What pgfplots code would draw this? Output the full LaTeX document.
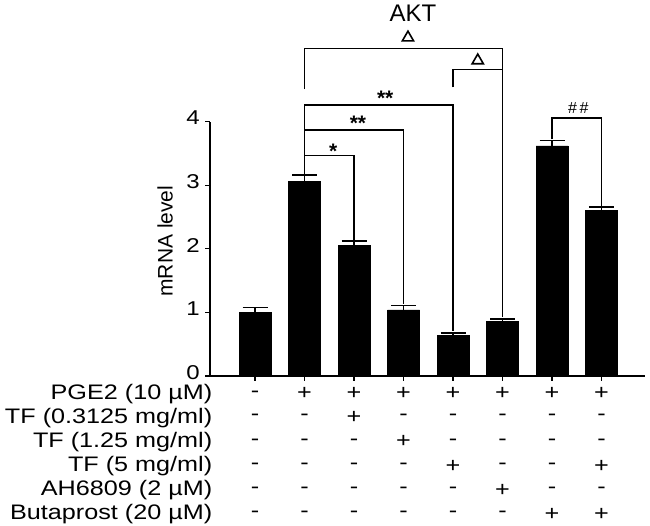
\documentclass[border=0pt]{standalone}
\usepackage{fontspec}
\setmainfont{Liberation Sans}[FakeStretch=1.2]
\newfontfamily\plainfont{Liberation Sans}
\usepackage{pgfplots}
\usetikzlibrary{shapes.geometric}
\pgfplotsset{compat=1.18}
\newcommand{\rowfont}{\fontsize{21bp}{24bp}\selectfont}
\tikzset{tri/.style={draw, regular polygon, regular polygon sides=3, minimum size=13bp, inner sep=0pt, line width=1.6bp},
  lab/.style={font=\rowfont, anchor=east, inner sep=0pt}}
\begin{document}
\begin{tikzpicture}
\begin{axis}[
  scale only axis, width=435bp, height=254.4bp,
  xmin=-0.909, xmax=7.879, ymin=0, ymax=4,
  axis lines*=left,
  axis line style={line width=1.3bp, black},
  ytick={0,1,2,3,4}, xtick={0,1,2,3,4,5,6,7}, xticklabels={},
  tick align=outside, major tick length=5bp,
  tick style={line width=1.3bp, black},
  /pgf/number format/assume math mode=true,
  yticklabel style={font=\fontsize{20bp}{24bp}\selectfont, inner sep=0pt, xshift=-5bp, yshift=3.5bp},
  ylabel={mRNA level},
  ylabel style={at={(axis description cs:-0.103,0.53)}, anchor=center, font=\plainfont\fontsize{21bp}{24bp}\selectfont},
  clip=false,
]
\addplot[ybar, bar width=32bp, fill=black, draw=black,
  error bars/.cd, y dir=plus, y explicit,
  error bar style={line width=1.6bp, black},
  error mark options={mark size=12.5bp, line width=1.6bp, rotate=90, black}]
  coordinates {
  (0,1.00) +- (0,0.08)
  (1,3.06) +- (0,0.10)
  (2,2.05) +- (0,0.07)
  (3,1.04) +- (0,0.07)
  (4,0.64) +- (0,0.035)
  (5,0.86) +- (0,0.035)
  (6,3.62) +- (0,0.08)
  (7,2.60) +- (0,0.06)
  };
% significance brackets
\draw[line width=1.5bp] (axis cs:1,4.51) -- (axis cs:1,5.15) -- (axis cs:5,5.15) -- (axis cs:5,0.92);
\draw[line width=1.5bp] (axis cs:4,4.54) -- (axis cs:4,4.82) -- (axis cs:5,4.82);
\draw[line width=1.5bp] (axis cs:1,3.17) -- (axis cs:1,4.26) -- (axis cs:4,4.26) -- (axis cs:4,0.70);
\draw[line width=1.5bp] (axis cs:1,3.87) -- (axis cs:3,3.87) -- (axis cs:3,1.13);
\draw[line width=1.5bp] (axis cs:1,3.47) -- (axis cs:2,3.47) -- (axis cs:2,2.14);
\draw[line width=1.5bp] (axis cs:6,3.72) -- (axis cs:6,4.06) -- (axis cs:7,4.06) -- (axis cs:7,2.68);
\node[tri] at (axis cs:3.09,5.32) {};
\node[tri] at (axis cs:4.50,4.96) {};
\node[font=\plainfont\bfseries\fontsize{21bp}{24bp}\selectfont, yshift=-4.5bp] at (axis cs:2.63,4.43) {**};
\node[font=\plainfont\bfseries\fontsize{21bp}{24bp}\selectfont, yshift=-4.5bp] at (axis cs:2.08,4.04) {**};
\node[font=\plainfont\bfseries\fontsize{21bp}{24bp}\selectfont, yshift=-4.5bp] at (axis cs:1.58,3.60) {*};
\node[font=\plainfont\fontsize{16bp}{18bp}\selectfont] at (axis cs:6.53,4.22) {\#\,\#};
\node[font=\plainfont\fontsize{24bp}{26bp}\selectfont] at (axis cs:3.19,5.71) {AKT};
% treatment table
\node[lab] at (axis cs:-0.86,-0.280) {PGE2 (10 µM)};
\node[lab] at (axis cs:-0.86,-0.655) {TF (0.3125 mg/ml)};
\node[lab] at (axis cs:-0.86,-1.035) {TF (1.25 mg/ml)};
\node[lab] at (axis cs:-0.86,-1.415) {TF (5 mg/ml)};
\node[lab] at (axis cs:-0.86,-1.797) {AH6809 (2 µM)};
\node[lab] at (axis cs:-0.86,-2.178) {Butaprost (20 µM)};
% row 1: PGE2
\node[font=\rowfont] at (axis cs:0,-0.280) {-};
\node[font=\rowfont] at (axis cs:1,-0.280) {+};
\node[font=\rowfont] at (axis cs:2,-0.280) {+};
\node[font=\rowfont] at (axis cs:3,-0.280) {+};
\node[font=\rowfont] at (axis cs:4,-0.280) {+};
\node[font=\rowfont] at (axis cs:5,-0.280) {+};
\node[font=\rowfont] at (axis cs:6,-0.280) {+};
\node[font=\rowfont] at (axis cs:7,-0.280) {+};
% row 2
\node[font=\rowfont] at (axis cs:0,-0.655) {-};
\node[font=\rowfont] at (axis cs:1,-0.655) {-};
\node[font=\rowfont] at (axis cs:2,-0.655) {+};
\node[font=\rowfont] at (axis cs:3,-0.655) {-};
\node[font=\rowfont] at (axis cs:4,-0.655) {-};
\node[font=\rowfont] at (axis cs:5,-0.655) {-};
\node[font=\rowfont] at (axis cs:6,-0.655) {-};
\node[font=\rowfont] at (axis cs:7,-0.655) {-};
% row 3
\node[font=\rowfont] at (axis cs:0,-1.035) {-};
\node[font=\rowfont] at (axis cs:1,-1.035) {-};
\node[font=\rowfont] at (axis cs:2,-1.035) {-};
\node[font=\rowfont] at (axis cs:3,-1.035) {+};
\node[font=\rowfont] at (axis cs:4,-1.035) {-};
\node[font=\rowfont] at (axis cs:5,-1.035) {-};
\node[font=\rowfont] at (axis cs:6,-1.035) {-};
\node[font=\rowfont] at (axis cs:7,-1.035) {-};
% row 4
\node[font=\rowfont] at (axis cs:0,-1.415) {-};
\node[font=\rowfont] at (axis cs:1,-1.415) {-};
\node[font=\rowfont] at (axis cs:2,-1.415) {-};
\node[font=\rowfont] at (axis cs:3,-1.415) {-};
\node[font=\rowfont] at (axis cs:4,-1.415) {+};
\node[font=\rowfont] at (axis cs:5,-1.415) {-};
\node[font=\rowfont] at (axis cs:6,-1.415) {-};
\node[font=\rowfont] at (axis cs:7,-1.415) {+};
% row 5
\node[font=\rowfont] at (axis cs:0,-1.797) {-};
\node[font=\rowfont] at (axis cs:1,-1.797) {-};
\node[font=\rowfont] at (axis cs:2,-1.797) {-};
\node[font=\rowfont] at (axis cs:3,-1.797) {-};
\node[font=\rowfont] at (axis cs:4,-1.797) {-};
\node[font=\rowfont] at (axis cs:5,-1.797) {+};
\node[font=\rowfont] at (axis cs:6,-1.797) {-};
\node[font=\rowfont] at (axis cs:7,-1.797) {-};
% row 6
\node[font=\rowfont] at (axis cs:0,-2.178) {-};
\node[font=\rowfont] at (axis cs:1,-2.178) {-};
\node[font=\rowfont] at (axis cs:2,-2.178) {-};
\node[font=\rowfont] at (axis cs:3,-2.178) {-};
\node[font=\rowfont] at (axis cs:4,-2.178) {-};
\node[font=\rowfont] at (axis cs:5,-2.178) {-};
\node[font=\rowfont] at (axis cs:6,-2.178) {+};
\node[font=\rowfont] at (axis cs:7,-2.178) {+};
\coordinate (bbBL) at (axis cs:-5.152,-2.358);
\coordinate (bbTR) at (axis cs:7.980,5.912);
\end{axis}
\pgfresetboundingbox
\useasboundingbox (bbBL) rectangle (bbTR);
\end{tikzpicture}
\end{document}
